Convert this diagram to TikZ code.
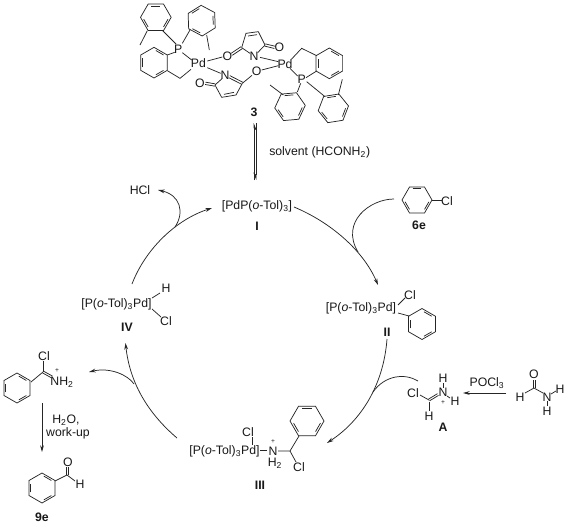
\documentclass[tikz,border=0pt]{standalone}
\usepackage{fontspec}
\setmainfont{Liberation Sans}
\usetikzlibrary{arrows.meta}
\tikzset{
  bondline/.style={line width=0.55pt,color=black!85},
  atom/.style={inner sep=0pt,font=\fontsize{9.2}{11}\selectfont,text=black!90},
  plus/.style={inner sep=0pt,font=\fontsize{5}{6}\selectfont,text=black!90},
  lab/.style={inner sep=0pt,font=\fontsize{9.2}{11}\selectfont\bfseries,text=black!90},
  flow/.style={line width=0.55pt,color=black!85,-{Stealth[length=5pt,width=2.8pt]}},
  flowplain/.style={line width=0.55pt,color=black!85},
  halfup/.style={line width=0.5pt,color=black!85,-{Stealth[harpoon,swap,length=5pt,width=4pt]}},
}
\newcommand{\hexring}[4]{%
  \begin{scope}[shift={(#1,#2)}]
    \draw[bondline] (#4:#3) -- ({#4+60}:#3) -- ({#4+120}:#3) -- ({#4+180}:#3) -- ({#4+240}:#3) -- ({#4+300}:#3) -- cycle;
    \foreach \a in {0,120,240}{
      \draw[bondline] ({#4+\a+9}:{0.8*#3}) -- ({#4+\a+51}:{0.8*#3});
    }
  \end{scope}}
\newcommand{\dbl}[5]{%
  \pgfmathsetmacro\ddx{#3-(#1)}%
  \pgfmathsetmacro\ddy{#4-(#2)}%
  \pgfmathsetmacro\dlen{veclen(\ddx,\ddy)}%
  \pgfmathsetmacro\dox{#5*\ddy/\dlen}%
  \pgfmathsetmacro\doy{-#5*\ddx/\dlen}%
  \draw[bondline] ({#1+\dox},{#2+\doy}) -- ({#3+\dox},{#4+\doy});
  \draw[bondline] ({#1-\dox},{#2-\doy}) -- ({#3-\dox},{#4-\doy});}
\begin{document}
\begin{tikzpicture}[x=0.75pt,y=-0.75pt]
\useasboundingbox (0,0) rectangle (567,525);
\fill[white] (0,0) rectangle (567,525);

% ---- complex 3, in crop units (1/3 px)
\begin{scope}[shift={(90,0)},x=0.25pt,y=-0.25pt]
  \node[atom] (P1) at (265,147) {P};
  \node[atom] (Pd1) at (325,190) {Pd};
  \node[atom] (O1) at (412,168) {O};
  \node[atom] (Nu) at (492,168) {N};
  \node[atom] (O2) at (568,143) {O};
  \node[atom] (Pd2) at (585,192) {Pd};
  \node[atom] (Nl) at (405,225) {N};
  \node[atom] (O4) at (330,250) {O};
  \node[atom] (O3) at (500,215) {O};
  \node[atom] (P2) at (635,237) {P};

  \hexring{197.5}{52}{46}{240}
  \draw[bondline] (172,92) -- (150,135);
  \draw[bondline] (218,92) -- (258,132);
  \hexring{335}{62}{46}{208}
  \draw[bondline] (350,105) -- (358,150);
  \draw[bondline] (300,90) -- (277,130);
  \hexring{192}{188}{46}{270}
  \draw[bondline] (232,165) -- (254,157);
  \draw[bondline] (232,212) -- (270,235) -- (303,208);
  \draw[bondline] (277,158) -- (305,180);
  \draw[bondline] (352,183) -- (397,171);
  \draw[bondline] (352,203) -- (392,220);
  % upper maleimide
  \dbl{425}{163}{455}{143}{3.5}
  \draw[bondline] (455,143) -- (468,100) -- (505,95) -- (525,135) -- (503,158);
  \draw[bondline] (455,143) -- (480,160);
  \draw[bondline] (474,108) -- (501,104);
  \dbl{525}{135}{554}{142}{3.5}
  \draw[bondline] (510,172) -- (565,185);
  % lower maleimide
  \dbl{418}{230}{457}{250}{3.5}
  \draw[bondline] (457,250) -- (438,285) -- (395,292) -- (375,255) -- (396,236);
  \draw[bondline] (432,277) -- (402,283);
  \dbl{375}{255}{346}{250}{3.5}
  \draw[bondline] (457,250) -- (486,226);
  \draw[bondline] (515,210) -- (565,197);
  % right half
  \hexring{718}{190}{46}{270}
  \draw[bondline] (604,178) -- (635,145) -- (680,167);
  \draw[bondline] (600,205) -- (623,228);
  \draw[bondline] (648,233) -- (680,213);
  \hexring{600}{320}{46}{235}
  \draw[bondline] (632,250) -- (622,276);
  \draw[bondline] (580,285) -- (540,255);
  \hexring{730}{325}{46}{231}
  \draw[bondline] (650,245) -- (705,290);
  \draw[bondline] (745,285) -- (757,238);
\end{scope}

\node[lab] (n3) at (254,112) {3};
\coordinate (eqA) at (254,180);
\coordinate (eqB) at (254,123);
\coordinate (eqC) at (256,123);
\coordinate (eqD) at (256,180);
\draw[halfup] (eqA) -- (eqB);
\draw[halfup] (eqC) -- (eqD);
\node[atom,anchor=west] (solv) at (269,152) {solvent (HCONH\textsubscript{2})};

% ---- Catalytic intermediates
\node[atom] (HCl) at (140,190) {HCl};
\node[atom] (cI) at (257,206) {[PdP(\textit{o}-Tol)\textsubscript{3}]};
\node[lab] (lI) at (257,226) {I};

% 6e
\hexring{417}{200}{15}{0}
\node[atom] (Cl6) at (447,201) {Cl};
\draw[bondline] (432,200) -- (442,200);
\node[lab] (l6e) at (419,225) {6e};

% II
\node[atom] (cII) at (361,308) {[P(\textit{o}-Tol)\textsubscript{3}Pd]};
\node[atom] (ClII) at (410,295) {Cl};
\draw[bondline] (398,305) -- (405,298);
\hexring{422}{324}{15.5}{270}
\draw[bondline] (398,313) -- (409,316);
\node[lab] (lII) at (387,332) {II};

% A
\node[atom] (ClA) at (413,393) {Cl};
\node[atom] (NA) at (443,392.5) {N};
\node[atom] (HAt) at (443,378) {H};
\node[atom] (HAr) at (455,401) {H};
\node[atom] (HAb) at (429,416) {H};
\node[plus] (pA) at (443,403) {+};
\draw[bondline] (420,395) -- (429,400);
\dbl{429}{400}{438}{394.5}{1}
\draw[bondline] (429,402) -- (429,411);
\draw[bondline] (443,383) -- (443,388);
\draw[bondline] (447,396) -- (450,398);
\node[lab] (lA) at (443,427) {A};

% POCl3 arrow
\coordinate (pocA) at (506,393);
\coordinate (pocB) at (463,393);
\draw[flow] (pocA) -- (pocB);
\node[atom] (pocl) at (487,383) {POCl\textsubscript{3}};

% formamide
\node[atom] (Of) at (534,374) {O};
\node[atom] (Hf) at (520,397) {H};
\node[atom] (Nf) at (547,397) {N};
\node[atom] (Hr) at (560,389) {H};
\node[atom] (Hd) at (547,411) {H};
\dbl{534}{388}{534}{379.5}{1}
\draw[bondline] (525,393) -- (534,388) -- (543,393);
\draw[bondline] (551,394) -- (556,391);
\draw[bondline] (547,401) -- (547,406);

% III
\node[atom] (cIII) at (224.5,451) {[P(\textit{o}-Tol)\textsubscript{3}Pd]};
\node[atom] (ClIII) at (248,432) {Cl};
\draw[bondline] (252,437) -- (252,445);
\draw[bondline] (260,450) -- (267,450);
\node[atom] (NIII) at (273,451) {N};
\node[plus] (pIII) at (273,442) {+};
\node[atom] (HIII) at (275,463) {H\textsubscript{2}};
\draw[bondline] (278,451) -- (290,451) -- (299,436);
\hexring{307}{421}{17}{0}
\draw[bondline] (290,451) -- (296,462);
\node[atom] (ClC) at (299,467) {Cl};
\node[lab] (lIII) at (260,485) {III};

% IV
\node[atom] (cIV) at (116.5,304) {[P(\textit{o}-Tol)\textsubscript{3}Pd]};
\node[atom] (HIV) at (166,288) {H};
\node[atom] (ClIV) at (166,321) {Cl};
\draw[bondline] (152,298) -- (160,293);
\draw[bondline] (152,309) -- (161,317);
\node[lab] (lIV) at (127,327) {IV};

% iminium on the left
\hexring{17}{388}{15}{270}
\draw[bondline] (31,382) -- (43,372);
\node[atom] (ClL) at (44,356) {Cl};
\draw[bondline] (43,372) -- (43,361);
\dbl{43}{372}{52}{377}{1}
\node[atom] (NH) at (62,382) {NH\textsubscript{2}};
\node[plus] (pL) at (57,371) {+};
\coordinate (hA) at (42,403);
\coordinate (hB) at (42,452);
\draw[flow] (hA) -- (hB);
\node[atom] (wat) at (66,420) {H\textsubscript{2}O,};
\node[atom] (work) at (68,433) {work-up};

% benzaldehyde
\hexring{42}{488}{15}{270}
\draw[bondline] (55,481) -- (67,475) -- (75,481);
\dbl{67}{475}{67}{467}{1}
\node[atom] (Oa) at (68,462) {O};
\node[atom] (Ha) at (80,484) {H};
\node[lab] (l9e) at (42,517) {9e};

% ---- Cycle arrows
\coordinate (a1s) at (294,207);
\coordinate (a1e) at (378,285);
\coordinate (a2s) at (387,339);
\coordinate (a2e) at (327,443);
\coordinate (a3s) at (177,438);
\coordinate (a3e) at (125.5,343);
\coordinate (a4s) at (132,284);
\coordinate (a4e) at (212,208);
\coordinate (j1s) at (394,199);
\coordinate (j1e) at (358,252);
\coordinate (j2s) at (418,381);
\coordinate (j2e) at (373,392);
\coordinate (x3s) at (134,384);
\coordinate (x3e) at (89,372);
\coordinate (x4s) at (175,227);
\coordinate (x4e) at (158,190);

\draw[flow] (a1s) .. controls (330,222) and (363,250) .. (a1e);
\draw[flowplain] (j1s) .. controls (370,199) and (340,222) .. (j1e);
\draw[flow] (a2s) .. controls (384,380) and (365,418) .. (a2e);
\draw[flowplain] (j2s) .. controls (405,373) and (385,375) .. (j2e);
\draw[flow] (a3s) .. controls (150,415) and (130,385) .. (a3e);
\draw[flow] (x3s) .. controls (128,375) and (110,367) .. (x3e);
\draw[flow] (a4s) .. controls (145,250) and (175,220) .. (a4e);
\draw[flow] (x4s) .. controls (185,212) and (180,195) .. (x4e);
\end{tikzpicture}
\end{document}
